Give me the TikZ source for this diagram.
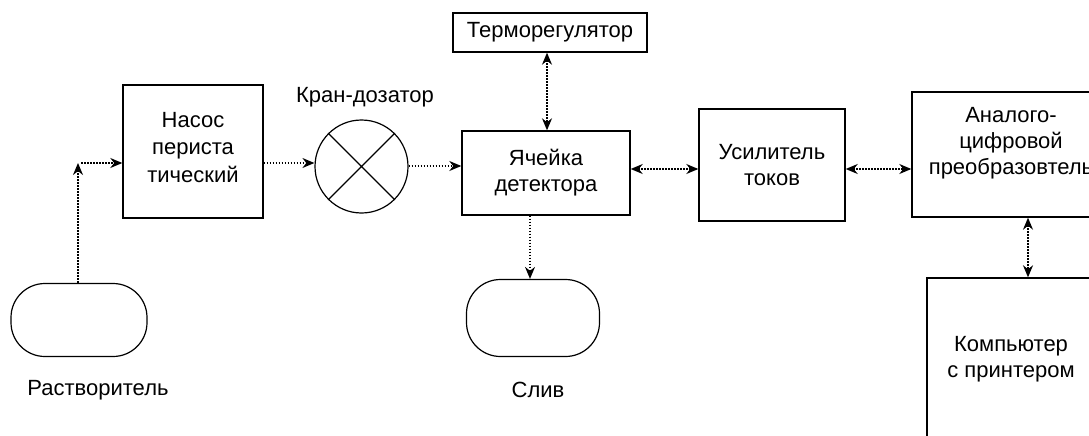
\documentclass[tikz,border=0pt]{standalone}
\usepackage{fontspec}
\setmainfont{Liberation Sans}
\usetikzlibrary{arrows.meta,calc}
\begin{document}
\begin{tikzpicture}[x=1pt,y=-1pt,
  txt/.style={font=\fontsize{22}{26}\selectfont, align=center, inner sep=0pt},
  blk/.style={draw, line width=1.4pt, rectangle, inner sep=0pt},
  term/.style={draw, line width=1.2pt, rectangle, rounded corners=34pt, inner sep=0pt},
  arr/.style={line width=1.3pt, dash pattern=on 1.6pt off 1.4pt, -{Stealth[length=12pt,width=10pt]}},
  darr/.style={line width=1.3pt, dash pattern=on 1.6pt off 1.4pt, {Stealth[length=12pt,width=10pt]}-{Stealth[length=12pt,width=10pt]}}
]
\useasboundingbox (0,0) rectangle (1089,436);
\clip (0,0) rectangle (1089,436);

% terminals
\node[term, minimum width=136pt, minimum height=73pt] (solv) at (79,320) {};
\node[txt] (solvlbl) at (98,390) {Растворитель};
\node[term, minimum width=133pt, minimum height=77pt] (drain) at (533,318) {};
\node[txt] (drainlbl) at (538,390) {Слив};

% pump
\node[blk, minimum width=140pt, minimum height=133pt] (pump) at (193,151.5) {};
\node[txt, font=\fontsize{22}{27.5}\selectfont] (pumptxt) at ([yshift=4pt]pump.center) {Насос\\периста\\тический};

% valve
\node[draw, circle, line width=1.2pt, minimum size=93pt, inner sep=0pt] (valve) at (361.5,166.5) {};
\draw[line width=1.1pt] (valve.north west) -- (valve.south east) (valve.north east) -- (valve.south west);
\node[txt] (valvelbl) at (365,97) {Кран-дозатор};

% detector cell
\node[blk, minimum width=168pt, minimum height=84pt, txt] (cell) at (546,173) {Ячейка\\детектора};
\node[blk, minimum width=194pt, minimum height=39pt, txt] (thermo) at (550,32.5) {Терморегулятор};

% amplifier
\node[blk, minimum width=146pt, minimum height=112pt, txt] (amp) at (772,165) {Усилитель\\токов};

% ADC
\node[blk, minimum width=198pt, minimum height=125pt] (adc) at (1011,154.5) {};
\node[txt] (adctxt) at ([yshift=11pt]adc.center) {Аналого-\\цифровой\\преобразовтель};

% computer
\node[blk, minimum width=168pt, minimum height=162pt, txt] (comp) at (1011,359) {Компьютер\\с принтером};

% connectors
\coordinate (corner) at (78,163);
\draw[arr] (solv.north -| corner) -- (corner);
\draw[arr] ([xshift=3pt]corner) -- (corner -| pump.west);
\draw[arr] (pump.east |- 0,163) -- (valve.west |- 0,163);
\draw[arr] (valve.east |- 0,166) -- (cell.west |- 0,166);
\draw[darr] ([xshift=-3pt]thermo.south) -- ([xshift=-3pt]thermo.south |- cell.north);
\draw[arr] ([xshift=-3pt]drain.north |- cell.south) -- ([xshift=-3pt]drain.north);
\draw[darr] ([yshift=4pt]cell.east) -- ([yshift=4pt]cell.east -| amp.west);
\draw[darr] ([yshift=-4pt]amp.east) -- ([yshift=-4pt]amp.east -| adc.west);
\draw[darr] ([xshift=17pt]adc.south) -- ([xshift=17pt]adc.south |- comp.north);
\end{tikzpicture}
\end{document}
